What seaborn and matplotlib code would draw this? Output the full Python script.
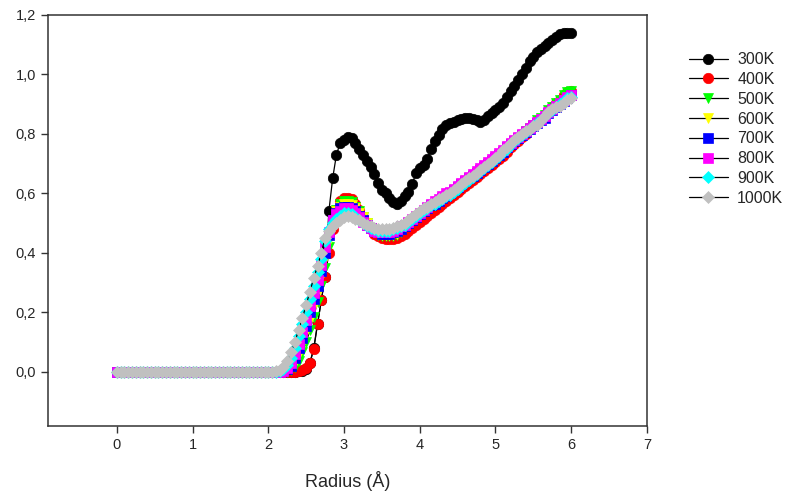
import numpy as np
import pandas as pd
import seaborn as sns
import matplotlib.pyplot as plt
from matplotlib.ticker import FuncFormatter

# radius grid, 0.05 A steps from 0 to 6 A
radius = np.round(np.linspace(0, 6, 121), 2)
zeros_head = [0.0] * 40   # 0.00 .. 1.95, all series flat at zero

# values from 2.00 to 6.00 in 0.05 steps
k300 = [0, 0, 0, 0, 0, 0, 0, 0, 0.002, 0.004, 0.01, 0.03, 0.08, 0.16, 0.24, 0.32,
        0.54, 0.65, 0.73, 0.77, 0.78, 0.79, 0.785, 0.77, 0.75, 0.73, 0.71, 0.69,
        0.665, 0.635, 0.61, 0.60, 0.585, 0.57, 0.565, 0.575, 0.59, 0.605, 0.63, 0.67,
        0.685, 0.695, 0.715, 0.75, 0.775, 0.795, 0.815, 0.83, 0.835, 0.84, 0.845,
        0.85, 0.855, 0.855, 0.85, 0.845, 0.84, 0.845, 0.86, 0.87, 0.88, 0.89, 0.905,
        0.925, 0.945, 0.96, 0.98, 1.00, 1.02, 1.045, 1.06, 1.075, 1.085, 1.095,
        1.105, 1.115, 1.125, 1.135, 1.14, 1.14, 1.14]
k400 = [0, 0, 0, 0, 0, 0, 0, 0, 0.002, 0.005, 0.012, 0.03, 0.075, 0.16, 0.24, 0.32,
        0.40, 0.48, 0.545, 0.575, 0.585, 0.585, 0.58, 0.565, 0.545, 0.52, 0.50, 0.48,
        0.465, 0.455, 0.45, 0.445, 0.445, 0.445, 0.45, 0.455, 0.465, 0.475, 0.485,
        0.495, 0.505, 0.515, 0.525, 0.535, 0.545, 0.555, 0.565, 0.575, 0.585, 0.595,
        0.605, 0.615, 0.625, 0.635, 0.645, 0.655, 0.665, 0.675, 0.685, 0.695, 0.705,
        0.715, 0.725, 0.74, 0.755, 0.765, 0.775, 0.79, 0.80, 0.815, 0.825, 0.84,
        0.85, 0.865, 0.875, 0.89, 0.905, 0.915, 0.93, 0.94, 0.945]
k500 = [0, 0, 0, 0, 0, 0, 0.005, 0.015, 0.035, 0.065, 0.10, 0.14, 0.185, 0.235,
        0.29, 0.35, 0.42, 0.49, 0.545, 0.565, 0.575, 0.575, 0.57, 0.555, 0.54, 0.52,
        0.50, 0.485, 0.47, 0.46, 0.455, 0.455, 0.455, 0.455, 0.46, 0.47, 0.48, 0.49,
        0.50, 0.51, 0.52, 0.53, 0.54, 0.55, 0.56, 0.57, 0.58, 0.59, 0.60, 0.61, 0.62,
        0.63, 0.64, 0.65, 0.66, 0.67, 0.68, 0.69, 0.70, 0.71, 0.72, 0.73, 0.74, 0.75,
        0.765, 0.775, 0.785, 0.795, 0.81, 0.82, 0.83, 0.845, 0.855, 0.865, 0.88,
        0.89, 0.905, 0.915, 0.93, 0.94, 0.945]
k600 = [0, 0, 0, 0, 0, 0.004, 0.012, 0.03, 0.06, 0.095, 0.135, 0.175, 0.22, 0.265,
        0.32, 0.38, 0.44, 0.50, 0.54, 0.555, 0.565, 0.565, 0.56, 0.55, 0.535, 0.52,
        0.50, 0.485, 0.475, 0.465, 0.46, 0.46, 0.46, 0.46, 0.465, 0.475, 0.485,
        0.495, 0.505, 0.515, 0.525, 0.535, 0.545, 0.555, 0.565, 0.575, 0.58, 0.59,
        0.60, 0.61, 0.62, 0.63, 0.64, 0.65, 0.66, 0.67, 0.68, 0.69, 0.70, 0.71, 0.72,
        0.73, 0.74, 0.75, 0.765, 0.775, 0.785, 0.795, 0.805, 0.815, 0.825, 0.835,
        0.845, 0.855, 0.865, 0.875, 0.89, 0.90, 0.91, 0.92, 0.93]
k700 = [0, 0, 0, 0, 0.002, 0.008, 0.02, 0.045, 0.08, 0.115, 0.155, 0.20, 0.245,
        0.29, 0.34, 0.40, 0.46, 0.51, 0.535, 0.55, 0.555, 0.555, 0.55, 0.54, 0.525,
        0.51, 0.495, 0.485, 0.475, 0.47, 0.465, 0.465, 0.465, 0.47, 0.475, 0.48,
        0.49, 0.50, 0.51, 0.52, 0.53, 0.54, 0.55, 0.56, 0.565, 0.575, 0.585, 0.59,
        0.60, 0.61, 0.62, 0.63, 0.64, 0.65, 0.66, 0.67, 0.68, 0.69, 0.70, 0.71, 0.72,
        0.73, 0.74, 0.755, 0.765, 0.775, 0.785, 0.795, 0.805, 0.815, 0.825, 0.835,
        0.845, 0.855, 0.87, 0.88, 0.89, 0.90, 0.91, 0.92, 0.93]
k800 = [0, 0, 0, 0, 0.004, 0.012, 0.03, 0.06, 0.095, 0.135, 0.175, 0.22, 0.265,
        0.31, 0.36, 0.42, 0.47, 0.51, 0.53, 0.54, 0.55, 0.55, 0.545, 0.535, 0.52,
        0.505, 0.495, 0.485, 0.475, 0.47, 0.47, 0.47, 0.47, 0.475, 0.48, 0.49, 0.495,
        0.505, 0.515, 0.525, 0.535, 0.545, 0.555, 0.565, 0.575, 0.58, 0.59, 0.60,
        0.605, 0.615, 0.625, 0.635, 0.645, 0.655, 0.665, 0.675, 0.685, 0.695, 0.705,
        0.715, 0.725, 0.735, 0.745, 0.76, 0.77, 0.78, 0.79, 0.80, 0.81, 0.82, 0.83,
        0.84, 0.85, 0.86, 0.875, 0.885, 0.895, 0.905, 0.915, 0.925, 0.93]
k900 = [0, 0, 0, 0.002, 0.008, 0.022, 0.045, 0.08, 0.12, 0.16, 0.20, 0.245, 0.29,
        0.335, 0.38, 0.44, 0.48, 0.50, 0.515, 0.525, 0.535, 0.535, 0.53, 0.52, 0.51,
        0.50, 0.49, 0.485, 0.48, 0.475, 0.475, 0.475, 0.475, 0.48, 0.485, 0.49,
        0.495, 0.505, 0.515, 0.525, 0.535, 0.545, 0.55, 0.56, 0.565, 0.575, 0.58,
        0.59, 0.595, 0.605, 0.615, 0.625, 0.635, 0.645, 0.655, 0.665, 0.675, 0.685,
        0.695, 0.705, 0.715, 0.725, 0.74, 0.75, 0.765, 0.775, 0.785, 0.795, 0.805,
        0.815, 0.825, 0.835, 0.845, 0.86, 0.87, 0.88, 0.89, 0.90, 0.91, 0.92, 0.925]
k1000 = [0, 0, 0.002, 0.006, 0.015, 0.035, 0.065, 0.10, 0.14, 0.18, 0.225, 0.27,
         0.315, 0.355, 0.40, 0.45, 0.475, 0.49, 0.50, 0.51, 0.52, 0.525, 0.52, 0.515,
         0.51, 0.50, 0.495, 0.49, 0.485, 0.48, 0.48, 0.48, 0.48, 0.485, 0.49, 0.495,
         0.50, 0.51, 0.52, 0.53, 0.54, 0.55, 0.555, 0.565, 0.57, 0.58, 0.585, 0.595,
         0.60, 0.61, 0.62, 0.63, 0.64, 0.65, 0.66, 0.67, 0.68, 0.69, 0.70, 0.71, 0.72,
         0.73, 0.745, 0.755, 0.77, 0.78, 0.79, 0.80, 0.81, 0.815, 0.825, 0.83, 0.845,
         0.86, 0.875, 0.885, 0.89, 0.895, 0.905, 0.915, 0.92]

labels = ['300K', '400K', '500K', '600K', '700K', '800K', '900K', '1000K']
series = [k300, k400, k500, k600, k700, k800, k900, k1000]
colors = ['black', 'red', '#00ff00', 'yellow', 'blue', 'magenta', 'cyan', '#c0c0c0']
markers = ['o', 'o', 'v', 'v', 's', 's', 'D', 'D']
msizes = [7.5, 7.5, 7.5, 7.5, 6.5, 6.5, 6.5, 6.5]

frames = []
for lab, vals in zip(labels, series):
    y = zeros_head + vals
    assert len(y) == len(radius), (lab, len(y))
    frames.append(pd.DataFrame({'Radius': radius, 'g': y, 'T': lab}))
df = pd.concat(frames, ignore_index=True)

sns.set_style('ticks')
plt.rcParams['font.family'] = ['Liberation Sans', 'DejaVu Sans']

fig = plt.figure(figsize=(7.86, 4.97), dpi=100)
ax = fig.add_axes([0.061, 0.143, 0.762, 0.827])

for lab, c, m, ms in zip(labels, colors, markers, msizes):
    sns.lineplot(data=df[df['T'] == lab], x='Radius', y='g', ax=ax,
                 estimator=None, color='black', linewidth=0.9,
                 marker=m, markersize=ms, markerfacecolor=c,
                 markeredgecolor=c, markeredgewidth=0.5, label=lab)

ax.set_xlim(-0.91, 7)
ax.set_ylim(-0.182, 1.2)
ax.set_xticks(range(0, 8))
ax.set_yticks([0, 0.2, 0.4, 0.6, 0.8, 1.0, 1.2])
comma = FuncFormatter(lambda v, p: f'{v:.1f}'.replace('.', ','))
ax.yaxis.set_major_formatter(comma)
ax.xaxis.set_major_formatter(FuncFormatter(lambda v, p: f'{v:.0f}'))
ax.tick_params(direction='out', length=5, width=1, labelsize=10.5, color='#333333')
for s in ax.spines.values():
    s.set_visible(True)
    s.set_linewidth(1.1)
    s.set_color('#333333')
ax.set_xlabel('Radius (Å)', fontsize=13, labelpad=14)
ax.set_ylabel('')

ax.legend(loc='upper left', bbox_to_anchor=(0.877, 0.895),
          bbox_transform=fig.transFigure, frameon=False, fontsize=11.5,
          handlelength=2.4, handletextpad=0.6, labelspacing=0.3,
          borderaxespad=0, borderpad=0)

fig.savefig('out.png', dpi=100)
